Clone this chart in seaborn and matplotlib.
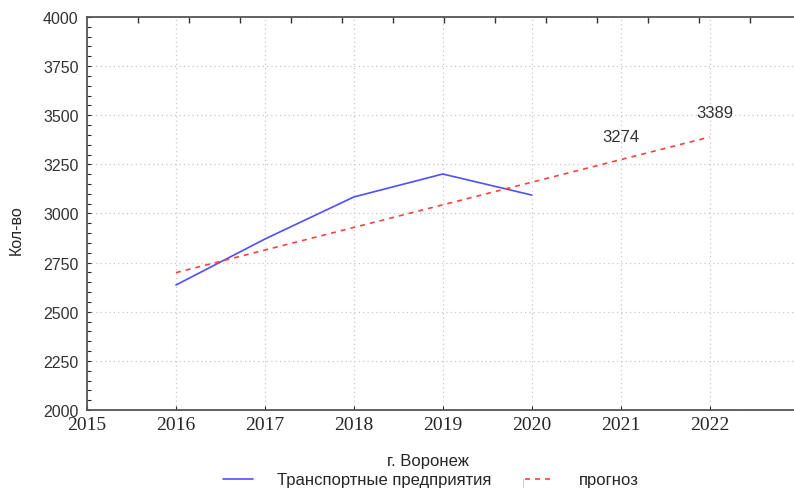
import numpy as np
import pandas as pd
import matplotlib
matplotlib.use("Agg")
import matplotlib.pyplot as plt
from matplotlib.ticker import MultipleLocator
import seaborn as sns

# data
years_fact = [2016, 2017, 2018, 2019, 2020]
fact = [2636, 2870, 3084, 3201, 3094]
years_fc = [2016, 2017, 2018, 2019, 2020, 2021, 2022]
forecast = [2699, 2814, 2929, 3044, 3159, 3274, 3389]
x_ticks = [2015, 2016, 2017, 2018, 2019, 2020, 2021, 2022]
y_ticks = [2000, 2250, 2500, 2750, 3000, 3250, 3500, 3750, 4000]

df_fact = pd.DataFrame({"year": years_fact, "value": fact})
df_fc = pd.DataFrame({"year": years_fc, "value": forecast})

sns.set_style("white")
plt.rcParams['font.family'] = ['Liberation Sans', 'DejaVu Sans']

fig = plt.figure(figsize=(7.94, 4.89), dpi=100)
ax = fig.add_axes([0.1096, 0.1595, 0.8904, 0.8037])

sns.lineplot(x="year", y="value", data=df_fact, color="#4f4fff", lw=1.2,
             ax=ax, label="Транспортные предприятия")
sns.lineplot(x="year", y="value", data=df_fc, color="#ff4040", lw=1.2,
             dashes=False, ax=ax, label="прогноз")
ax.lines[1].set_linestyle((0, (3, 3)))

# labels on the last two forecast points
ax.annotate(str(forecast[-2]), (years_fc[-2], forecast[-2]), xytext=(0, 11),
            textcoords="offset points", ha="center", va="bottom", fontsize=12, color="#333333")
ax.annotate(str(forecast[-1]), (years_fc[-1], forecast[-1]), xytext=(4, 12),
            textcoords="offset points", ha="center", va="bottom", fontsize=12, color="#333333")

ax.set_xlim(2015, 2022.95)
ax.set_ylim(2000, 4000)
ax.set_xticks(x_ticks)
ax.set_xticklabels([str(x) for x in x_ticks], family=['Liberation Serif'], fontsize=14)
ax.set_yticks(y_ticks)
ax.set_yticklabels([str(y) for y in y_ticks], fontsize=11.5, color="#333333")
ax.yaxis.set_minor_locator(MultipleLocator(50))
ax.tick_params(axis="y", which="both", direction="in", length=3, width=0.8, pad=6, left=True)
ax.tick_params(axis="x", which="major", direction="in", length=3, width=0.8, pad=4, bottom=True)

ax.grid(True, which="major", color="#c8c8c8", linestyle=(0, (1, 2.5)), lw=0.9)
for s in ["left", "bottom", "top"]:
    ax.spines[s].set_color("#555555")
    ax.spines[s].set_linewidth(1.3)
ax.spines["right"].set_visible(False)

# small ticks along the top edge, every ~51 px
sec = ax.secondary_xaxis("top")
sec.set_xticks(2015 + np.arange(51, 708, 51) / 88.9)
sec.set_xticklabels([])
sec.tick_params(axis="x", direction="in", length=4, width=1.0, color="#333333")
sec.spines["top"].set_visible(False)

ax.set_xlabel("г. Воронеж", fontsize=12)
ax.xaxis.set_label_coords(428 / 794, 1 - 454 / 489, transform=fig.transFigure)
ax.set_ylabel("Кол-во", fontsize=11.5)
ax.yaxis.set_label_coords(24 / 794, 1 - 230 / 489, transform=fig.transFigure)

leg = ax.legend(loc="center left", bbox_to_anchor=(223 / 794, 1 - 481 / 489),
                bbox_transform=fig.transFigure, ncol=2, frameon=False, fontsize=12,
                borderpad=0, borderaxespad=0, handlelength=1.8, columnspacing=2.0,
                handletextpad=1.45)
fig.text(523 / 794, 1 - 484 / 489, "|", fontsize=8, color="#cccccc", ha="center", va="center")

fig.savefig("out.png", dpi=100)
